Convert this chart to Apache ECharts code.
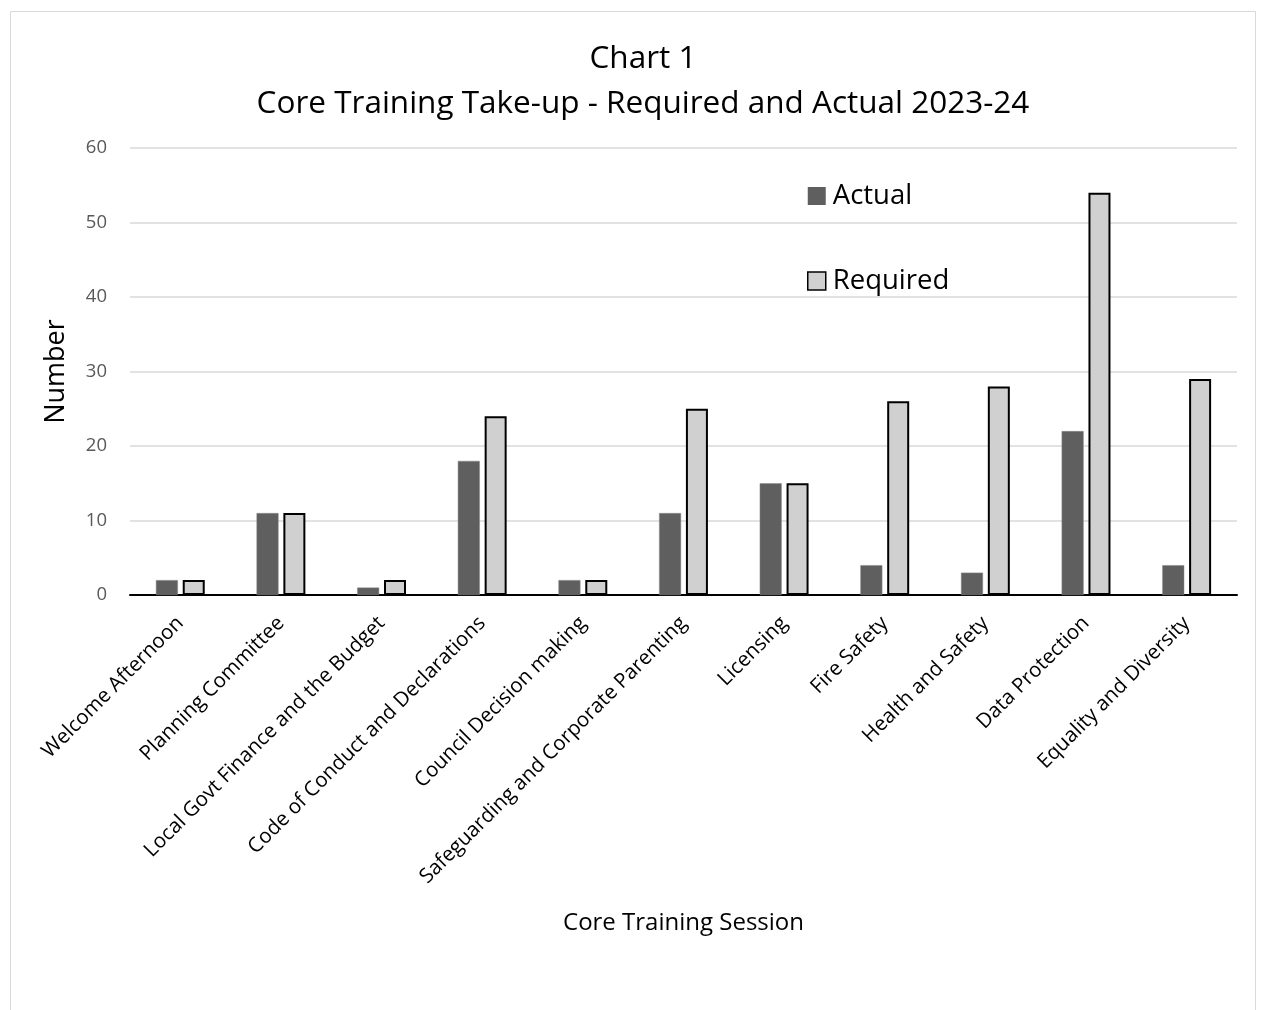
<!DOCTYPE html>
<html><head><meta charset="utf-8">
<script src="https://cdn.jsdelivr.net/npm/echarts@6/dist/echarts.min.js"></script>
<style>html,body{margin:0;padding:0;background:#fff}#c{width:1266px;height:1010px}</style>
</head><body><div id="c"></div>
<script>
const categories = ["Welcome Afternoon","Planning Committee","Local Govt Finance and the Budget","Code of Conduct and Declarations","Council Decision making","Safeguarding and Corporate Parenting","Licensing","Fire Safety","Health and Safety","Data Protection","Equality and Diversity"];
const actual = [2, 11, 1, 18, 2, 11, 15, 4, 3, 22, 4];
const required = [2, 11, 2, 24, 2, 25, 15, 26, 28, 54, 29];
const yTicks = {min: 0, max: 60, interval: 10};
const FONT = "Open Sans";
const chart = echarts.init(document.getElementById('c'));
chart.setOption({
  animation: false,
  textStyle: {fontFamily: FONT},
  graphic: [{type: 'rect', shape: {x: 10.5, y: 11.5, width: 1245, height: 1010}, style: {fill: 'none', stroke: '#d9d9d9', lineWidth: 1}}],
  title: {
    text: 'Chart 1\nCore Training Take-up - Required and Actual 2023-24',
    left: 638, top: 32, textAlign: 'center',
    textStyle: {fontFamily: FONT, fontSize: 31.5, fontWeight: 'normal', color: '#000', lineHeight: 45}
  },
  legend: {
    orient: 'vertical', left: 802, top: 177, itemGap: 57,
    itemWidth: 18, itemHeight: 18, icon: 'rect',
    textStyle: {fontFamily: FONT, fontSize: 27.5, color: '#000', padding: [0,0,0,2]},
    data: [
      {name: 'Actual', itemStyle: {color: '#5f5f5f', borderWidth: 0}},
      {name: 'Required', itemStyle: {color: '#d0d0d0', borderColor: '#000', borderWidth: 1.5}}
    ]
  },
  grid: {left: 130, right: 29, top: 148, bottom: 415},
  xAxis: {
    type: 'category', data: categories,
    name: 'Core Training Session', nameLocation: 'middle', nameGap: 316,
    nameTextStyle: {fontFamily: FONT, fontSize: 24, color: '#000'},
    axisLine: {lineStyle: {color: '#000', width: 2}},
    axisTick: {show: false},
    axisLabel: {rotate: 45, interval: 0, fontFamily: FONT, fontSize: 20.5, color: '#000', margin: 25}
  },
  yAxis: {
    type: 'value', min: yTicks.min, max: yTicks.max, interval: yTicks.interval,
    name: 'Number', nameLocation: 'middle', nameGap: 60, nameRotate: 90,
    nameTextStyle: {fontFamily: FONT, fontSize: 27, color: '#000'},
    axisLine: {show: false}, axisTick: {show: false},
    axisLabel: {fontFamily: FONT, fontSize: 18.5, color: '#595959', margin: 23},
    splitLine: {lineStyle: {color: '#d9d9d9', width: 1.5}}
  },
  series: [
    {name: 'Actual', type: 'bar', data: actual, barWidth: 22, barGap: '22%',
     itemStyle: {color: '#5f5f5f', borderColor: '#8a8a8a', borderWidth: 0.5}},
    {name: 'Required', type: 'bar', data: required, barWidth: 22,
     itemStyle: {color: '#d0d0d0', borderColor: '#000', borderWidth: 2}}
  ]
});
</script></body></html>
